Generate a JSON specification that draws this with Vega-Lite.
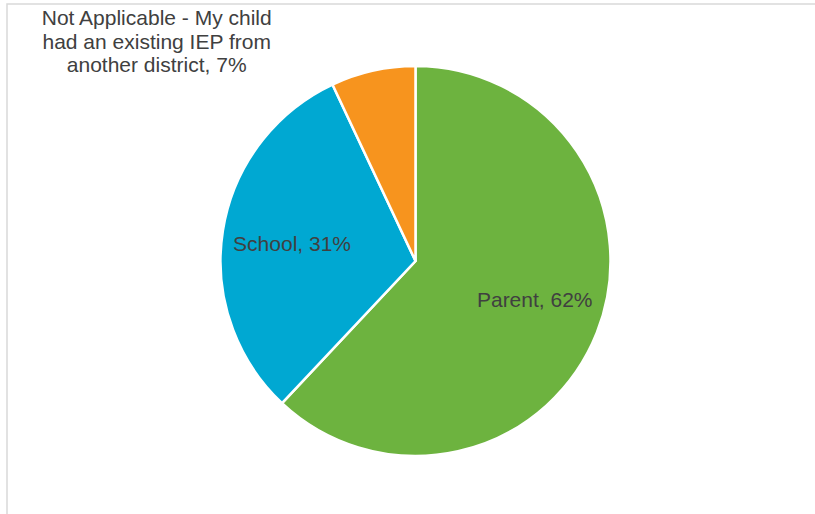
{
  "$schema": "https://vega.github.io/schema/vega-lite/v6.json",
  "width": 817,
  "height": 514,
  "autosize": {"type": "none"},
  "padding": {"left": 7, "top": 4, "right": 0, "bottom": 0},
  "background": "white",
  "view": {"stroke": "#d9d9d9", "strokeWidth": 1.5},
  "data": {
    "values": [
      {"category": "Parent", "value": 62, "label": "Parent, 62%", "order": 1},
      {"category": "School", "value": 31, "label": "School, 31%", "order": 2},
      {"category": "Not Applicable", "value": 7, "label": "Not Applicable - My child\nhad an existing IEP from\nanother district, 7%", "order": 3}
    ]
  },
  "encoding": {
    "theta": {"field": "value", "type": "quantitative", "stack": true},
    "order": {"field": "order", "type": "quantitative"}
  },
  "layer": [
    {
      "mark": {"type": "arc", "outerRadius": 195, "stroke": "white", "strokeWidth": 2.5},
      "encoding": {
        "color": {
          "field": "category",
          "type": "nominal",
          "scale": {"domain": ["Parent", "School", "Not Applicable"], "range": ["#6DB33F", "#00A8D2", "#F7941E"]},
          "legend": null
        }
      }
    },
    {
      "mark": {"type": "text", "radius": 125, "dx": 3, "dy": -6, "font": "Liberation Sans", "fontSize": 21, "color": "#404040"},
      "encoding": {
        "text": {"condition": {"test": "datum.category === 'Parent'", "field": "label"}, "value": ""}
      }
    },
    {
      "mark": {"type": "text", "radius": 125, "dy": 4, "font": "Liberation Sans", "fontSize": 21, "color": "#404040"},
      "encoding": {
        "text": {"condition": {"test": "datum.category === 'School'", "field": "label"}, "value": ""}
      }
    },
    {
      "mark": {"type": "text", "radius": 210, "dx": -213, "dy": -37, "font": "Liberation Sans", "fontSize": 21, "lineHeight": 23.5, "lineBreak": "\n", "align": "center", "baseline": "middle", "color": "#404040"},
      "encoding": {
        "text": {"condition": {"test": "datum.category === 'Not Applicable'", "field": "label"}, "value": ""}
      }
    }
  ]
}
